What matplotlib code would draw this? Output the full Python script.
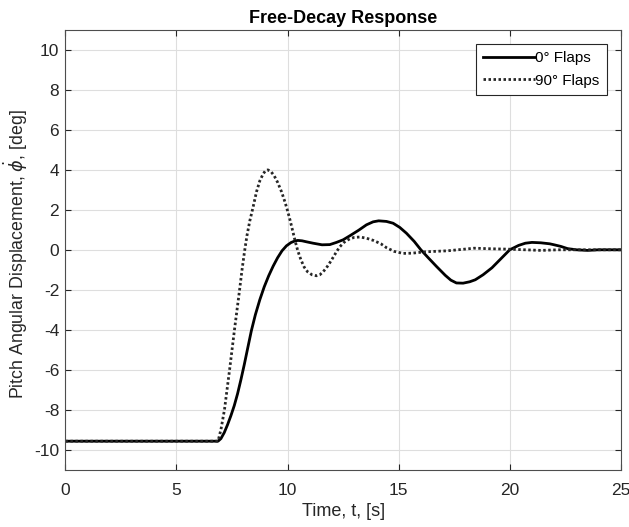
import matplotlib
matplotlib.use("Agg")
import matplotlib.pyplot as plt

plt.rcParams["font.family"] = ["Liberation Sans", "DejaVu Sans"]
plt.rcParams["mathtext.fontset"] = "dejavusans"
plt.rcParams["axes.unicode_minus"] = False

# 0 deg flaps (solid)
t_0 = [0.0, 6.87, 7.0, 7.15, 7.3, 7.45, 7.6, 7.75, 7.9, 8.05, 8.2, 8.37,
       8.55, 8.75, 8.95, 9.15, 9.35, 9.55, 9.75, 9.95, 10.15, 10.3, 10.46,
       10.65, 10.85, 11.15, 11.55, 11.9, 12.2, 12.5, 12.8, 13.2, 13.55, 13.85,
       14.1, 14.45, 14.75, 15.05, 15.35, 15.7, 16.0, 16.35, 16.7, 17.1, 17.35,
       17.6, 17.9, 18.2, 18.45, 18.8, 19.2, 19.6, 20.0, 20.4, 20.7, 21.0,
       21.4, 21.8, 22.0, 22.3, 22.6, 23.0, 23.5, 24.0, 24.5, 25.0]
y_0 = [-9.58, -9.58, -9.45, -9.15, -8.75, -8.3, -7.8, -7.2, -6.5, -5.75,
       -4.95, -4.05, -3.25, -2.5, -1.85, -1.3, -0.82, -0.4, -0.05, 0.2, 0.36,
       0.43, 0.47, 0.45, 0.4, 0.33, 0.25, 0.26, 0.37, 0.5, 0.7, 0.98, 1.25,
       1.4, 1.45, 1.42, 1.33, 1.12, 0.83, 0.42, 0.0, -0.42, -0.83, -1.28,
       -1.52, -1.66, -1.67, -1.6, -1.5, -1.25, -0.9, -0.45, 0.0, 0.22, 0.33,
       0.37, 0.35, 0.3, 0.25, 0.17, 0.06, 0.0, -0.03, 0.0, 0.0, 0.0]

# 90 deg flaps (dotted)
t_90 = [0.0, 6.87, 7.0, 7.16, 7.39, 7.61, 7.84, 7.95, 8.06, 8.17, 8.3, 8.44,
        8.6, 8.75, 8.9, 9.0, 9.11, 9.25, 9.4, 9.55, 9.73, 9.88, 10.0, 10.12,
        10.24, 10.35, 10.46, 10.6, 10.75, 10.9, 11.1, 11.3, 11.45, 11.6,
        11.75, 11.9, 12.05, 12.2, 12.35, 12.55, 12.8, 13.0, 13.26, 13.55,
        13.86, 14.2, 14.46, 14.8, 15.2, 15.6, 16.2, 17.2, 18.4, 19.2, 20.0,
        20.7, 21.4, 22.2, 23.0, 24.0, 25.0]
y_90 = [-9.58, -9.58, -9.0, -8.0, -6.0, -4.0, -2.0, -1.0, -0.1, 0.7, 1.45,
        2.1, 2.9, 3.45, 3.8, 3.95, 4.0, 3.92, 3.7, 3.38, 2.9, 2.4, 1.95, 1.45,
        0.9, 0.4, -0.05, -0.5, -0.87, -1.1, -1.25, -1.3, -1.25, -1.1, -0.9,
        -0.65, -0.38, -0.1, 0.15, 0.38, 0.55, 0.62, 0.64, 0.58, 0.47, 0.3,
        0.1, -0.08, -0.18, -0.17, -0.1, -0.05, 0.08, 0.05, 0.03, 0.0, -0.03,
        0.0, 0.0, 0.0, 0.0]

legend_labels = ["0\u00b0 Flaps", "90\u00b0 Flaps"]
x_ticks = [0, 5, 10, 15, 20, 25]
y_ticks = list(range(-10, 11, 2))

fig = plt.figure(figsize=(6.29, 5.27), dpi=100)
ax = fig.add_axes([0.104, 0.109, 0.883, 0.834])

ax.plot(t_0, y_0, color="black", lw=2.0, label=legend_labels[0])
ax.plot(t_90, y_90, color="#262626", lw=2.0, linestyle=(0, (0.9, 0.9)),
        label=legend_labels[1])

ax.set_xlim(0, 25)
ax.set_ylim(-11, 11)
ax.set_xticks(x_ticks)
ax.set_yticks(y_ticks)
ax.grid(True, color="#dedede", lw=0.8)
ax.set_axisbelow(True)
ax.tick_params(direction="in", top=True, right=True, labelsize=12.5,
               colors="#262626", length=4)
ax.tick_params(axis="y", pad=4.5)
ax.tick_params(axis="x", pad=10)
for s in ax.spines.values():
    s.set_color("#4d4d4d")
    s.set_linewidth(0.8)

ax.set_xlabel("Time, t, [s]", fontsize=13, color="#262626", labelpad=3)
ax.set_ylabel(r"Pitch Angular Displacement, $\dot{\phi}$, [deg]",
              fontsize=12.8, color="#262626")
ax.yaxis.set_label_coords(-0.064, 0.49)
ax.set_title("Free-Decay Response", fontsize=13, fontweight="bold", pad=5)

leg = ax.legend(loc="upper right", fontsize=11, handlelength=3.4,
                handletextpad=0.0, borderaxespad=0.9, fancybox=False,
                framealpha=1, edgecolor="#262626", borderpad=0.5,
                labelspacing=0.55)
leg.get_frame().set_linewidth(0.8)

fig.savefig("out.png", dpi=100)
